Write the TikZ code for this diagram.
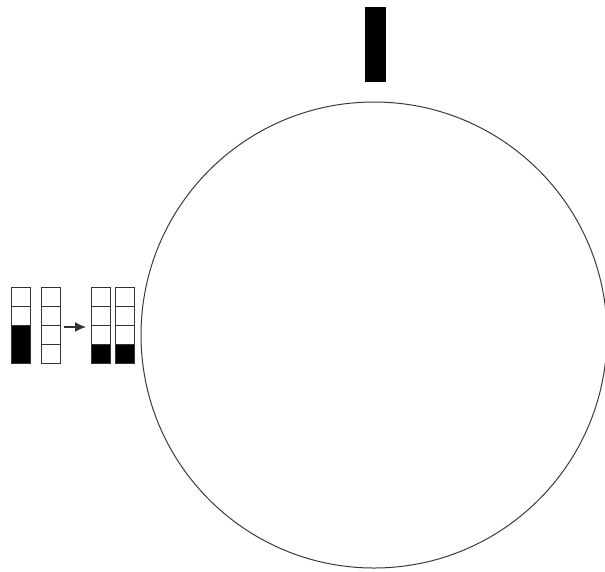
\documentclass[tikz,border=0pt]{standalone}
\usepackage{xcolor}
\usetikzlibrary{arrows.meta}
\definecolor{ringc}{HTML}{3A3A3A}
\definecolor{cellc}{HTML}{333333}

\begin{document}
\begin{tikzpicture}[x=1pt, y=-1pt,
  cell/.style={draw=cellc, line width=1.3pt, fill=white, minimum width=19pt,
    minimum height=19pt, inner sep=0pt, anchor=north west},
  full/.style={cell, fill=black}]
  \useasboundingbox (0,0) rectangle (605,571);
  % ring and bar
  \draw[ringc, line width=1pt] (374,335) circle (233pt);
  \node[fill=black, minimum width=21pt, minimum height=75pt, inner sep=0pt,
    anchor=north west] (bar) at (365,7) {};
  % before
  \foreach \r/\y in {1/287, 2/306} {
    \node[cell] (c1r\r) at (11,\y) {};
  }
  \node[full, minimum height=38pt] (c1r3) at (11,325) {};
  \foreach \r/\y in {1/287, 2/306, 3/325, 4/344} {
    \node[cell] (c2r\r) at (41,\y) {};
  }
  % after
  \foreach \c/\x in {3/91, 4/115} {
    \foreach \r/\y in {1/287, 2/306, 3/325} {
      \node[cell] (c\c r\r) at (\x,\y) {};
    }
    \node[full] (c\c r4) at (\x,344) {};
  }
  \draw[-{Latex[length=11pt,width=10pt]}, line width=1.3pt, cellc]
    ([xshift=3pt, yshift=-2pt]c2r3.north east) -- ([xshift=-5pt, yshift=-2pt]c3r3.north west);
\end{tikzpicture}
\end{document}
